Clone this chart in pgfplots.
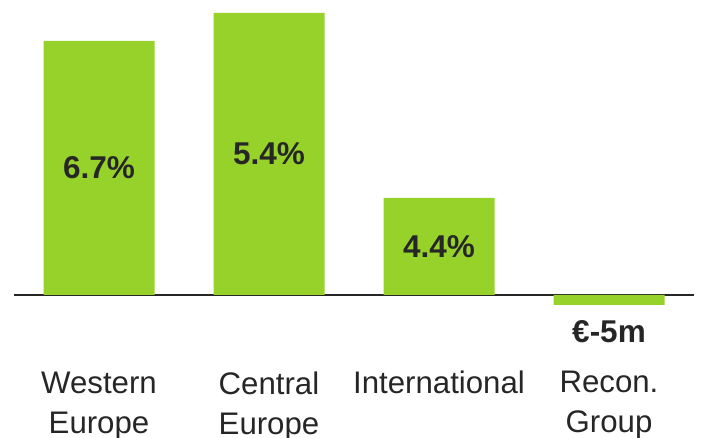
\documentclass[border=0pt]{standalone}
\usepackage{pgfplots}
\pgfplotsset{compat=1.18}
\usepackage{fontspec}
\setmainfont{Liberation Sans}
\definecolor{barg}{HTML}{97D22B}
\definecolor{txt}{HTML}{262626}

\begin{document}
\begin{tikzpicture}[catlab/.style={anchor=north, inner sep=0pt, align=center, text=txt,
     font={\fontsize{31.2bp}{40bp}\selectfont}}]
 \begin{axis}[
     width=680bp, height=438bp, scale only axis,
     xmin=-0.5, xmax=3.5, ymin=-143, ymax=295,
     axis x line=middle, axis y line=none,
     x axis line style={-, draw=txt, line width=1.5bp},
     xtick=\empty, ytick=\empty,
     clip=false,
 ]
 % bar heights (arbitrary units)
 \addplot[ybar, bar width=111bp, fill=barg, draw=none, bar shift=0pt]
   coordinates {(0,254) (1,282) (2,97) (3,-10)};
 % value labels
 \addplot[only marks, mark=none, point meta=explicit symbolic,
   nodes near coords, nodes near coords align=center,
   every node near coord/.append style={anchor=center, inner sep=0pt, text=txt,
     font={\fontsize{31.5bp}{38bp}\selectfont\bfseries}}]
   coordinates {(0,127)[6.7\%] (1,141)[5.4\%] (2,48.5)[4.4\%] (3,-37)[€-5m]};
 % category labels
 \node[catlab] at (axis cs:0,-77) {Western\\Europe};
 \node[catlab] at (axis cs:1,-77) {Central\\Europe};
 \node[catlab] at (axis cs:2,-76) {International};
 \node[catlab] at (axis cs:3,-76) {Recon.\\Group};
 \coordinate (bl) at (rel axis cs:0,0);
 \coordinate (tr) at (rel axis cs:1,1);
 \end{axis}
 \pgfresetboundingbox
 \useasboundingbox ([xshift=-14bp]bl) rectangle ([xshift=8bp]tr);
\end{tikzpicture}
\end{document}
